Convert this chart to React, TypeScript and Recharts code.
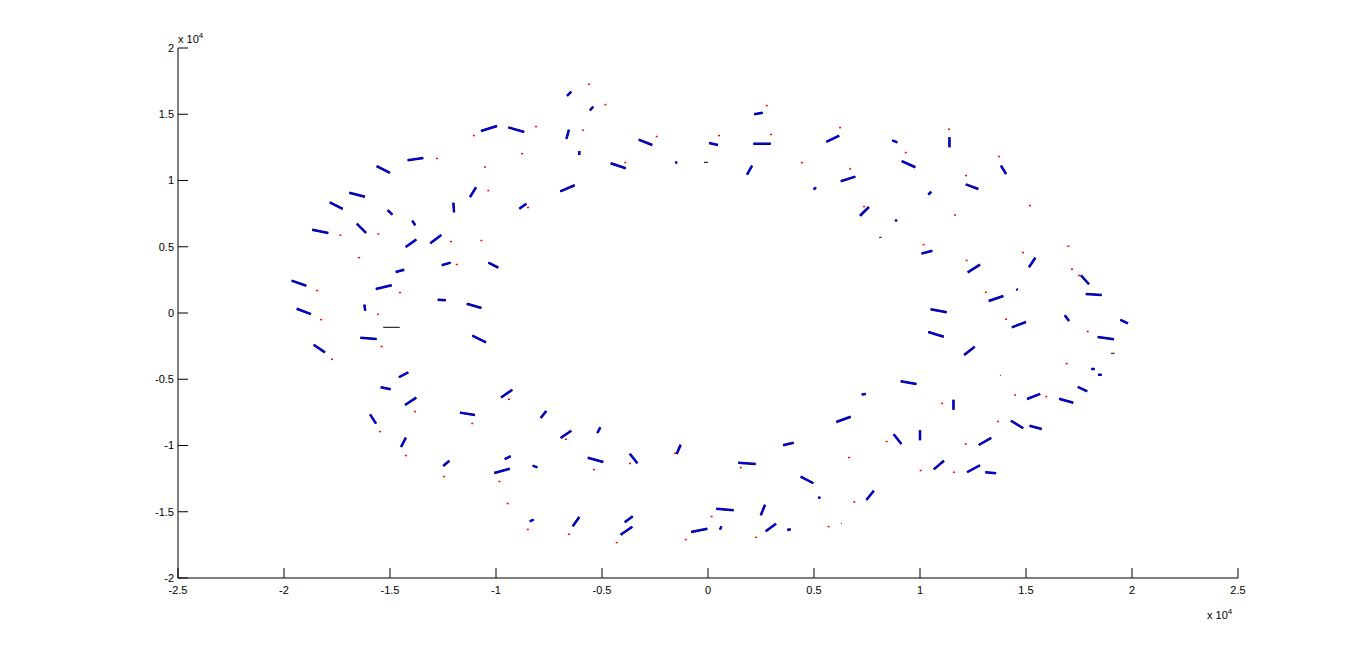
import React from 'react';
import { ComposedChart, Line, Scatter, XAxis, YAxis } from 'recharts';

const xTicks = [-25000, -20000, -15000, -10000, -5000, 0, 5000, 10000, 15000, 20000, 25000];
const yTicks = [-20000, -15000, -10000, -5000, 0, 5000, 10000, 15000, 20000];

type Seg = [number, number, number, number];

// blue track segments: [x1, y1, x2, y2]
const blueSegments: Seg[] = [
  [-10710, 13740, -9950, 14110],
  [-14170, 11520, -13430, 11700],
  [-15630, 11090, -15000, 10570],
  [-11230, 8750, -10940, 9490],
  [-16920, 9080, -16180, 8780],
  [-17840, 8350, -17230, 7850],
  [-15110, 7770, -14890, 7420],
  [-12010, 8320, -11980, 7600],
  [-16570, 6740, -16130, 6040],
  [-13950, 6970, -13810, 6620],
  [-18670, 6290, -17910, 6040],
  [-14260, 4980, -13760, 5550],
  [-13100, 5260, -12580, 5890],
  [-6650, 16380, -6450, 16700],
  [-5570, 15300, -5410, 15570],
  [-9420, 14010, -8670, 13660],
  [-6680, 13130, -6560, 13830],
  [-6070, 12230, -6070, 11920],
  [-3270, 13080, -2630, 12680],
  [-4590, 11300, -3880, 10920],
  [-1500, 11430, -1500, 11280],
  [50, 12830, 470, 12680],
  [-6970, 9180, -6290, 9640],
  [-8900, 7870, -8570, 8250],
  [2180, 15000, 2580, 15120],
  [2140, 12780, 2960, 12780],
  [5580, 12910, 6190, 13380],
  [8690, 13030, 8930, 12880],
  [9140, 11470, 9780, 11000],
  [1840, 10440, 2080, 11120],
  [6260, 9940, 6950, 10290],
  [4990, 9310, 5090, 9490],
  [7170, 7340, 7590, 8000],
  [8870, 7060, 8870, 6910],
  [11390, 13260, 11390, 12510],
  [13820, 11120, 14060, 10490],
  [12160, 9710, 12750, 9360],
  [10390, 8930, 10530, 9150],
  [-14730, 3090, -14330, 3270],
  [-12560, 3600, -12140, 3800],
  [-10360, 3800, -9890, 3420],
  [-19640, 2440, -18950, 2060],
  [-15670, 1810, -14920, 2090],
  [-12750, 1000, -12370, 960],
  [-11380, 700, -10690, 380],
  [-19400, 320, -18730, -80],
  [-16210, 630, -16170, 170],
  [-16400, -1860, -15630, -1960],
  [-11120, -1710, -10470, -2210],
  [-18600, -2390, -18070, -2970],
  [-14580, -4850, -14140, -4480],
  [-15440, -5610, -14970, -5760],
  [-9760, -6380, -9230, -5790],
  [10070, 4480, 10580, 4700],
  [9090, -5150, 9830, -5360],
  [7250, -6150, 7440, -6110],
  [12250, 3070, 12830, 3650],
  [15140, 3450, 15440, 4170],
  [17590, 2850, 17970, 2170],
  [14550, 1810, 14600, 1740],
  [17820, 1430, 18570, 1360],
  [13240, 910, 13930, 1280],
  [10500, 280, 11260, 50],
  [14330, -1080, 15000, -680],
  [16830, -170, 17030, -600],
  [19450, -510, 19810, -780],
  [18380, -1810, 19150, -1980],
  [10390, -1430, 11120, -1790],
  [12080, -3170, 12580, -2540],
  [18080, -4230, 18240, -4230],
  [18400, -4660, 18570, -4660],
  [17440, -5580, 17890, -5910],
  [15050, -6490, 15670, -6110],
  [16560, -6470, 17230, -6770],
  [-14290, -6940, -13760, -6390],
  [-15940, -7650, -15660, -8350],
  [-11700, -7520, -10990, -7700],
  [-14480, -10110, -14250, -9410],
  [-12490, -11550, -12200, -11150],
  [-7890, -7920, -7630, -7400],
  [-6950, -9430, -6450, -8880],
  [-5220, -9060, -5080, -8630],
  [-5670, -10920, -4940, -11250],
  [-3690, -10620, -3330, -11340],
  [-1480, -10640, -1290, -9940],
  [-9590, -11020, -9310, -10810],
  [-10080, -12080, -9350, -11750],
  [-8270, -11520, -8050, -11650],
  [-8410, -15720, -8220, -15600],
  [-6380, -16100, -6070, -15400],
  [-3930, -15800, -3550, -15340],
  [-4120, -16730, -3570, -16130],
  [-800, -16530, -30, -16280],
  [6050, -8230, 6730, -7830],
  [8760, -9150, 9120, -9890],
  [10000, -8850, 10000, -9610],
  [3540, -9980, 4040, -9790],
  [1430, -11300, 2250, -11400],
  [4370, -12350, 4970, -12850],
  [5200, -13890, 5300, -13980],
  [7470, -14110, 7820, -13410],
  [390, -14770, 1210, -14890],
  [2490, -15270, 2690, -14470],
  [570, -16350, 630, -16100],
  [2720, -16480, 3210, -15900],
  [3740, -16380, 3900, -16320],
  [11580, -6540, 11580, -7300],
  [14290, -8130, 14870, -8700],
  [15170, -8510, 15740, -8750],
  [12770, -9960, 13360, -9430],
  [10650, -11800, 11130, -11150],
  [12220, -12020, 12830, -11490],
  [13080, -12020, 13590, -12100],
];

// thin black segments
const blackSegments: Seg[] = [
  [-190, 11370, 0, 11370],
  [8070, 5710, 8190, 5710],
  [-15320, -1080, -14540, -1080],
  [19010, -3040, 19180, -3040],
  [13770, -4700, 13810, -4700],
  [6270, -15870, 6310, -15870],
];

// red points: [x, y]
const redPoints: [number, number][] = [
  [-11040, 13410], [-12780, 11680], [-10520, 11040], [-10360, 9260], [-17340, 5890],
  [-15550, 5980], [-12120, 5410], [-10690, 5490], [-5610, 17280], [-4840, 15750],
  [-8110, 14090], [-5900, 13810], [-8770, 12050], [-2420, 13340], [-3900, 11370],
  [-8490, 7980], [2770, 15670], [520, 13410], [2970, 13490], [6230, 14010],
  [9330, 12130], [4430, 11370], [6710, 10890], [7360, 8050], [11370, 13890],
  [13730, 11830], [12170, 10390], [15190, 8130], [11650, 7420], [-16460, 4200],
  [-11850, 3680], [-18440, 1710], [-14530, 1560], [-15570, -80], [-18250, -480],
  [-15390, -2510], [-17740, -3470], [10170, 5180], [12200, 3980], [14860, 4580],
  [17000, 5060], [17170, 3320], [17500, 2850], [13110, 1580], [14060, -450],
  [17910, -1380], [16920, -3800], [14480, -6170], [15960, -6290], [-13820, -7420],
  [-15470, -8930], [-11120, -8320], [-14250, -10740], [-12450, -12320], [-9390, -6490],
  [-6700, -9510], [-5380, -11800], [-3680, -11340], [-1560, -10570], [-9840, -12700],
  [-9450, -14360], [-8500, -16320], [-6560, -16680], [-4310, -17310], [-1050, -17080],
  [8430, -9680], [6650, -10890], [10030, -11870], [1540, -11650], [6900, -14240],
  [170, -15340], [2260, -16910], [5690, -16100], [11040, -6810], [13680, -8170],
  [12160, -9860], [11600, -12000],
];

function toPath(segs: Seg[]) {
  const out: { x: number; y: number | null }[] = [];
  segs.forEach(([x1, y1, x2, y2]) => {
    out.push({ x: x1, y: y1 });
    out.push({ x: x2, y: y2 });
    out.push({ x: x2, y: null });
  });
  return out;
}

const blueData = toPath(blueSegments);
const blackData = toPath(blackSegments);
const redData = redPoints.map(([x, y]) => ({ x, y }));

const fmt = (v: number) => String(v / 10000);

const RedDot = (props: any) => {
  const { cx, cy } = props;
  if (cx == null || cy == null) return null;
  return <rect x={cx - 1} y={cy - 0.5} width={2} height={1.5} fill="#ff0000" />;
};

const font = '"Liberation Sans", Arial, sans-serif';

export default function App() {
  return (
    <div style={{ position: 'relative', width: 1351, height: 636, background: '#fff', fontFamily: font }}>
      <ComposedChart
        width={1351}
        height={636}
        margin={{ top: 40, right: 121, bottom: 36, left: 0 }}
      >
        <XAxis
          type="number"
          dataKey="x"
          domain={[-25000, 25000]}
          ticks={xTicks}
          tickFormatter={fmt}
          allowDataOverflow
          height={30}
          axisLine={{ stroke: '#000' }}
          tickLine={{ stroke: '#000' }}
          tickSize={-10}
          tickMargin={18}
          tick={{ fill: '#000', fontSize: 11, fontFamily: font }}
        />
        <YAxis
          type="number"
          dataKey="y"
          domain={[-20000, 20000]}
          ticks={yTicks}
          tickFormatter={fmt}
          allowDataOverflow
          width={170}
          axisLine={{ stroke: '#000' }}
          tickLine={{ stroke: '#000' }}
          tickSize={-10}
          tickMargin={14}
          tick={{ fill: '#000', fontSize: 11, fontFamily: font }}
        />
        <Line
          data={blueData}
          dataKey="y"
          stroke="#000033"
          strokeWidth={2.5}
          dot={false}
          activeDot={false}
          connectNulls={false}
          isAnimationActive={false}
          legendType="none"
        />
        <Line
          data={blueData}
          dataKey="y"
          stroke="#0000ff"
          strokeWidth={1.5}
          dot={false}
          activeDot={false}
          connectNulls={false}
          isAnimationActive={false}
          legendType="none"
        />
        <Line
          data={blackData}
          dataKey="y"
          stroke="#000000"
          strokeWidth={1}
          dot={false}
          activeDot={false}
          connectNulls={false}
          isAnimationActive={false}
          legendType="none"
        />
        <Scatter data={redData} dataKey="y" shape={<RedDot />} isAnimationActive={false} />
      </ComposedChart>
      <div style={{ position: 'absolute', left: 170, top: 23, fontSize: 11, color: '#000', whiteSpace: 'nowrap' }}>
        x 10<sup style={{ fontSize: 8 }}>4</sup>
      </div>
      <div style={{ position: 'absolute', left: 1199, top: 599, fontSize: 11, color: '#000', whiteSpace: 'nowrap' }}>
        x 10<sup style={{ fontSize: 8 }}>4</sup>
      </div>
    </div>
  );
}
